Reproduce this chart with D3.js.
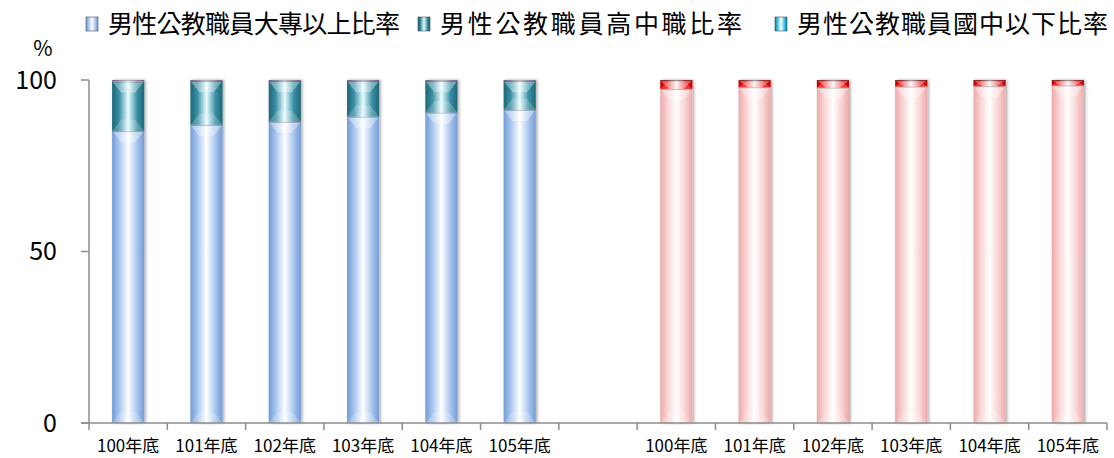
<!DOCTYPE html>
<html><head><meta charset="utf-8">
<script src="https://cdn.jsdelivr.net/npm/d3@7"></script>
<style>
body{margin:0;background:#fff;}
svg{display:block;font-family:"Noto Sans CJK TC","Noto Sans",sans-serif;}
</style></head>
<body><svg id="c" width="1114" height="458"></svg>
<script>
// ---- data ----
const categories = ["100年底","101年底","102年底","103年底","104年底","105年底","",
                    "100年底","101年底","102年底","103年底","104年底","105年底"];
const maleCollege = [85.1, 86.9, 87.8, 89.3, 90.5, 91.3];
const maleHigh    = [14.5, 12.8, 11.9, 10.4,  9.2,  8.4];
const maleJunior  = [ 0.4,  0.3,  0.3,  0.3,  0.3,  0.3];
const femaleCollege = [97.4, 97.9, 97.8, 98.1, 98.2, 98.4];
const femaleHigh    = [ 2.5,  2.0,  2.1,  1.8,  1.7,  1.5];
const femaleJunior  = [ 0.1,  0.1,  0.1,  0.1,  0.1,  0.1];
const yTicks = [0, 50, 100];
const legendLabels = ["男性公教職員大專以上比率","男性公教職員高中職比率","男性公教職員國中以下比率"];

// ---- setup ----
const svg = d3.select("#c");
const mLeft = 89, mRight = 1107, mTop = 80, mBottom = 423;
const x = d3.scaleBand().domain(d3.range(categories.length)).range([mLeft, mRight])
  .paddingInner(0.59).paddingOuter(0.295);
const y = d3.scaleLinear().domain([0, 100]).range([mBottom, mTop]);

const defs = svg.append("defs");
function grad(id, edge, mid, center) {
  const g = defs.append("linearGradient").attr("id", id).attr("x1", "0").attr("x2", "1").attr("y1","0").attr("y2","0");
  [[0, edge],[0.22, mid],[0.5, center],[0.78, mid],[1, edge]].forEach(([o,c]) =>
    g.append("stop").attr("offset", o).attr("stop-color", c));
}
grad("gBlue",  "#739cd6", "#a8c5ee", "#ffffff");
grad("gTeal",  "#1d6678", "#3a8fa4", "#e8fdff");
grad("gCyan",  "#9b7fb0", "#c8b3d6", "#ffffff");
grad("gPink",  "#eeaaaa", "#f9d2d2", "#ffffff");
grad("gRed",   "#c80000", "#f01010", "#f2f2f2");
grad("gRed2",  "#900000", "#c00000", "#e0e0e0");
grad("gLegCyan", "#0b7fa8", "#3fc3e6", "#ffffff");
const f = defs.append("filter").attr("id","sh").attr("x","-30%").attr("y","-5%").attr("width","160%").attr("height","110%");
f.append("feDropShadow").attr("dx",1.5).attr("dy",0).attr("stdDeviation",1.6).attr("flood-color","#000").attr("flood-opacity",0.35);

// stacks
const groups = [];
maleCollege.forEach((v,i)=>groups.push({idx:i, segs:[[maleCollege[i],"gBlue"],[maleHigh[i],"gTeal"],[maleJunior[i],"gCyan"]]}));
femaleCollege.forEach((v,i)=>groups.push({idx:i+7, segs:[[femaleCollege[i],"gPink"],[femaleHigh[i],"gRed"],[femaleJunior[i],"gRed2"]]}));

const bw = x.bandwidth();
groups.forEach(g => {
  const gg = svg.append("g").attr("filter","url(#sh)");
  let acc = 0;
  g.segs.forEach(([v, gid]) => {
    const y0 = y(acc), y1 = y(acc + v);
    const x0 = x(g.idx);
    gg.append("rect").attr("x", x0).attr("y", y1).attr("width", bw).attr("height", y0 - y1)
      .attr("fill", `url(#${gid})`);
    const h = Math.min(y0 - y1, bw * 0.35);
    if (h > 3) {
      gg.append("path")
        .attr("d", `M${x0},${y1} L${x0+bw},${y1} L${x0+bw*0.72},${y1+h} L${x0+bw*0.28},${y1+h} Z`)
        .attr("fill", "#ffffff").attr("opacity", 0.35);
      gg.append("path")
        .attr("d", `M${x0},${y0} L${x0+bw},${y0} L${x0+bw*0.72},${y0-h} L${x0+bw*0.28},${y0-h} Z`)
        .attr("fill", "#ffffff").attr("opacity", 0.2);
    }
    gg.append("line").attr("x1", x0).attr("x2", x0+bw).attr("y1", y1+0.5).attr("y2", y1+0.5)
      .attr("stroke", "#000").attr("stroke-opacity", 0.25);
    acc += v;
  });
});

// axes
const axisColor = "#8c8c8c";
svg.append("line").attr("x1", mLeft).attr("x2", mLeft).attr("y1", mTop).attr("y2", mBottom)
  .attr("stroke", axisColor).attr("stroke-width", 1.5);
svg.append("line").attr("x1", mLeft-8).attr("x2", mRight).attr("y1", mBottom).attr("y2", mBottom)
  .attr("stroke", axisColor).attr("stroke-width", 1.5);
yTicks.forEach(t => {
  svg.append("line").attr("x1", mLeft-8).attr("x2", mLeft).attr("y1", y(t)).attr("y2", y(t))
    .attr("stroke", axisColor).attr("stroke-width", 1.5);
  svg.append("text").attr("x", 57).attr("y", y(t)).attr("dy", "0.35em").attr("text-anchor", "end")
    .attr("font-size", 25).attr("fill", "#000").text(t);
});
svg.append("text").attr("x", 43).attr("y", 56).attr("text-anchor", "middle")
  .attr("font-size", 21).attr("fill", "#000").text("%");

const step = x.step();
for (let i = 0; i <= categories.length; i++) {
  const xx = mLeft + i * step;
  svg.append("line").attr("x1", xx).attr("x2", xx).attr("y1", mBottom).attr("y2", mBottom + 7)
    .attr("stroke", axisColor).attr("stroke-width", 1.5);
}
categories.forEach((c, i) => {
  if (!c) return;
  svg.append("text").attr("x", x(i) + bw/2).attr("y", 452).attr("text-anchor", "middle")
    .attr("font-size", 17).attr("fill", "#000").text(c);
});

// legend
const legendX = [86, 418, 775];
const legendW = [292, 302, 311];
const legendGrad = ["gBlue", "gTeal", "gLegCyan"];
legendLabels.forEach((l, i) => {
  svg.append("rect").attr("x", legendX[i]).attr("y", 17).attr("width", 12).attr("height", 14)
    .attr("fill", `url(#${legendGrad[i]})`).attr("stroke", "#333").attr("stroke-width", 0.5);
  svg.append("text").attr("x", legendX[i] + 22).attr("y", 33).attr("font-size", 25)
    .attr("textLength", legendW[i]).attr("lengthAdjust", "spacing")
    .attr("fill", "#000").text(l);
});
</script></body></html>
